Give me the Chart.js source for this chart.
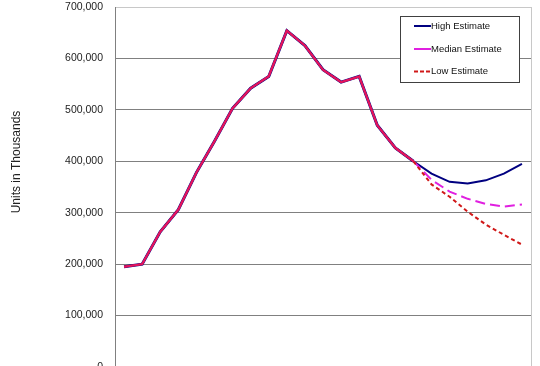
<!DOCTYPE html>
<html>
<head>
<meta charset="utf-8">
<script src="https://cdn.jsdelivr.net/npm/chart.js@4.4.1/dist/chart.umd.min.js"></script>
<style>
  html, body { margin: 0; padding: 0; background: #fff; overflow: hidden; }
  #chart { display: block; }
</style>
</head>
<body>
<canvas id="chart" width="540" height="390"></canvas>
<script>
// periods along the x axis (labels are not visible in the crop)
const periods = ['1', '2', '3', '4', '5', '6', '7', '8', '9', '10', '11', '12',
  '13', '14', '15', '16', '17', '18', '19', '20', '21', '22', '23'];

// shared history, last point is where the estimates split
const history = [195000, 200000, 263000, 306000, 378000, 439000, 503000, 542000,
  565000, 654000, 625000, 578000, 554000, 565000, 470000, 426000, 400000];

const highEstimate = [376000, 360000, 357000, 363000, 376000, 395000];
const medianEstimate = [364000, 341000, 327000, 317000, 312000, 316000];
const lowEstimate = [355000, 331000, 302000, 277000, 257000, 238000];

const yTicks = [0, 100000, 200000, 300000, 400000, 500000, 600000, 700000];

const FONT = '"Liberation Sans", Arial, sans-serif';
const splitIndex = history.length - 1;
const pastColor = '#e3145c';
const isPast = ctx => ctx.p1DataIndex <= splitIndex;

// frame, axis title and boxed legend
const extras = {
  id: 'extras',
  beforeDatasetsDraw(chart) {
    const { ctx, chartArea } = chart;
    ctx.save();
    ctx.strokeStyle = '#c8c8c8';
    ctx.lineWidth = 1;
    ctx.beginPath();
    ctx.moveTo(Math.round(chartArea.right) + 0.5, chartArea.top);
    ctx.lineTo(Math.round(chartArea.right) + 0.5, chartArea.bottom);
    ctx.stroke();
    ctx.restore();
  },
  afterDraw(chart) {
    const { ctx } = chart;
    ctx.save();
    // y axis title
    ctx.translate(17, 162);
    ctx.rotate(-Math.PI / 2);
    ctx.font = '12px ' + FONT;
    ctx.fillStyle = '#222';
    ctx.textAlign = 'center';
    ctx.textBaseline = 'middle';
    ctx.fillText('Units in Thousands', 0, 0);
    ctx.restore();

    // legend
    ctx.save();
    ctx.fillStyle = '#fff';
    ctx.fillRect(400.5, 16.5, 119, 66);
    ctx.strokeStyle = '#404040';
    ctx.lineWidth = 1;
    ctx.strokeRect(400.5, 16.5, 119, 66);
    const rows = [26, 49, 71.5];
    chart.data.datasets.forEach((ds, i) => {
      const y = rows[i];
      ctx.strokeStyle = ds.legendColor;
      ctx.lineWidth = 2;
      ctx.setLineDash(ds.legendDash);
      ctx.beginPath();
      ctx.moveTo(414, y);
      ctx.lineTo(431, y);
      ctx.stroke();
      ctx.setLineDash([]);
      ctx.fillStyle = '#111';
      ctx.font = '9.5px ' + FONT;
      ctx.textAlign = 'left';
      ctx.textBaseline = 'middle';
      ctx.fillText(ds.label, 431, y);
    });
    ctx.restore();
  }
};

new Chart(document.getElementById('chart'), {
  type: 'line',
  data: {
    labels: periods,
    datasets: [
      {
        label: 'High Estimate',
        data: history.concat(highEstimate),
        borderColor: '#000080',
        legendColor: '#000080',
        legendDash: [],
        borderWidth: 2,
        order: 3,
        segment: {
          borderWidth: ctx => isPast(ctx) ? 3 : 2
        }
      },
      {
        label: 'Median Estimate',
        data: history.concat(medianEstimate),
        borderColor: '#e020e0',
        legendColor: '#e020e0',
        legendDash: [],
        borderWidth: 2,
        order: 2,
        segment: {
          borderColor: ctx => isPast(ctx) ? pastColor : '#e020e0',
          borderDash: ctx => isPast(ctx) ? [] : [10, 5]
        }
      },
      {
        label: 'Low Estimate',
        data: history.concat(lowEstimate),
        borderColor: '#d01818',
        legendColor: '#d01818',
        legendDash: [4, 2],
        borderWidth: 2,
        order: 1,
        segment: {
          borderColor: ctx => isPast(ctx) ? pastColor : '#d01818',
          borderDash: ctx => isPast(ctx) ? [] : [4, 3]
        }
      }
    ]
  },
  options: {
    responsive: false,
    animation: false,
    layout: {
      padding: { left: 0, top: 7, right: 9, bottom: 23 }
    },
    elements: {
      point: { radius: 0 },
      line: { tension: 0 }
    },
    plugins: {
      legend: { display: false },
      tooltip: { enabled: false }
    },
    scales: {
      x: {
        type: 'category',
        offset: true,
        display: false
      },
      y: {
        min: yTicks[0],
        max: yTicks[yTicks.length - 1],
        afterFit: scale => {
          scale.width = 115;
          scale.paddingTop = 0;
          scale.paddingBottom = 0;
        },
        afterBuildTicks: scale => {
          scale.ticks = yTicks.map(v => ({ value: v }));
        },
        border: { color: '#808080', width: 1 },
        grid: {
          drawTicks: false,
          color: ctx => ctx.tick && ctx.tick.value === yTicks[yTicks.length - 1] ? '#c8c8c8' : '#808080',
          lineWidth: 1
        },
        ticks: {
          padding: 12,
          color: '#222',
          font: { family: FONT, size: 10.5 },
          callback: value => value.toLocaleString('en-US')
        }
      }
    }
  },
  plugins: [extras]
});
</script>
</body>
</html>
